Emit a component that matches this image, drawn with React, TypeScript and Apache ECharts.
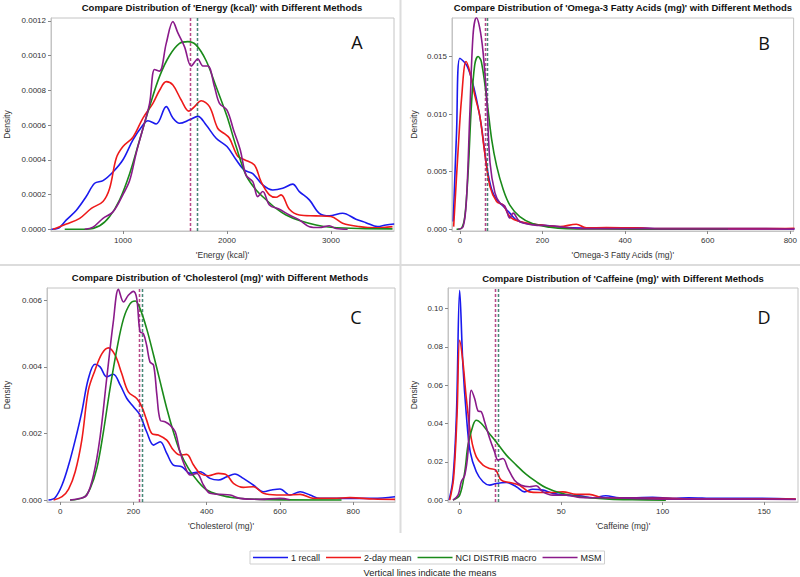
import React, { useEffect, useRef } from "react";
import * as echarts from "echarts";

// ---------- Data ----------
const methods = ["1 recall", "2-day mean", "NCI DISTRIB macro", "MSM"];
const methodColors = ["#1a1aee", "#ee1a1a", "#1a8a1a", "#8a1a8a"];

const panelTitles = [
  "Compare Distribution of 'Energy (kcal)' with Different Methods",
  "Compare Distribution of 'Omega-3 Fatty Acids (mg)' with Different Methods",
  "Compare Distribution of 'Cholesterol (mg)' with Different Methods",
  "Compare Distribution of 'Caffeine (mg)' with Different Methods",
];
const panelXNames = ["'Energy (kcal)'", "'Omega-3 Fatty Acids (mg)'", "'Cholesterol (mg)'", "'Caffeine (mg)'"];
const panelLetters = ["A", "B", "C", "D"];

const xTicksA = [1000, 2000, 3000];
const yTicksA = [0, 0.0002, 0.0004, 0.0006, 0.0008, 0.001, 0.0012];
const xTicksB = [0, 200, 400, 600, 800];
const yTicksB = [0, 0.005, 0.01, 0.015];
const xTicksC = [0, 200, 400, 600, 800];
const yTicksC = [0, 0.002, 0.004, 0.006];
const xTicksD = [0, 50, 100, 150];
const yTicksD = [0, 0.02, 0.04, 0.06, 0.08, 0.1];

const yDecimals = [4, 3, 3, 2];

// means: [blue/green mean, red/purple mean]
const meansA = [1714, 1646];
const meansB = [67, 62];
const meansC = [225, 216];
const meansD = [19, 17.7];

// Panel A: Energy
const energyRecall = [
  [312, 0], [376, 0.000005], [456, 0.000054], [552, 0.00011], [648, 0.00019], [728, 0.000265], [808, 0.00028],
  [904, 0.00033], [1000, 0.0004], [1096, 0.000514], [1192, 0.0006], [1240, 0.000625], [1320, 0.000606],
  [1416, 0.000706], [1480, 0.00064], [1544, 0.00061], [1640, 0.00063], [1720, 0.00065], [1800, 0.0006],
  [1896, 0.000524], [2000, 0.000476], [2088, 0.0004], [2168, 0.00034], [2248, 0.00032], [2344, 0.000255],
  [2440, 0.000226], [2536, 0.000236], [2632, 0.00026], [2696, 0.000217], [2792, 0.000169], [2888, 0.000092],
  [2984, 0.000077], [3112, 0.000092], [3240, 0.000058], [3336, 0.000038], [3448, 0.000015], [3528, 0.000025],
  [3608, 0.00003],
];
const energyTwoDay = [
  [328, 0], [456, 0.00003], [584, 0.000063], [696, 0.00012], [808, 0.00016], [872, 0.000236], [936, 0.00041],
  [1000, 0.000476], [1096, 0.00053], [1192, 0.00064], [1288, 0.000725], [1352, 0.0008], [1416, 0.00085],
  [1480, 0.00083], [1560, 0.000744], [1634, 0.00068], [1688, 0.000706], [1752, 0.00074], [1832, 0.000706],
  [1912, 0.00058], [1976, 0.00055], [2024, 0.000524], [2104, 0.00042], [2168, 0.0004], [2264, 0.00037],
  [2328, 0.000274], [2408, 0.000198], [2472, 0.000184], [2520, 0.000198], [2600, 0.000115], [2696, 0.000082],
  [2856, 0.000077], [3000, 0.000073], [3112, 0.000035], [3272, 0.000015], [3432, 0.000008], [3592, 0.000015],
];
const energyNci = [
  [440, 0], [648, 0], [776, 0.00002], [872, 0.000073], [968, 0.00017], [1064, 0.00032], [1160, 0.000514],
  [1256, 0.000706], [1352, 0.00088], [1448, 0.001], [1544, 0.00107], [1624, 0.00108], [1704, 0.00106],
  [1800, 0.00097], [1896, 0.00082], [2000, 0.00065], [2088, 0.000476], [2184, 0.00031], [2280, 0.000226],
  [2376, 0.00017], [2472, 0.00012], [2568, 0.000082], [2696, 0.00005], [2856, 0.000025], [3000, 0.000012],
  [3272, 0.000004], [3592, 0.000002],
];
const energyMsm = [
  [632, 0], [712, 0.000012], [808, 0.000063], [904, 0.0001], [1000, 0.0002], [1064, 0.00028], [1128, 0.00044],
  [1192, 0.00058], [1256, 0.000725], [1304, 0.00092], [1352, 0.00091], [1416, 0.00107], [1480, 0.001195],
  [1528, 0.00113], [1592, 0.00105], [1656, 0.00094], [1720, 0.00098], [1768, 0.00094], [1816, 0.00094],
  [1880, 0.00082], [1928, 0.000725], [2000, 0.000686], [2064, 0.00057], [2128, 0.000456], [2184, 0.00031],
  [2248, 0.000274], [2296, 0.000188], [2344, 0.000217], [2408, 0.00014], [2504, 0.000115], [2600, 0.000082],
  [2696, 0.000054], [2792, 0.000015], [2888, 0.00001], [2984, 0.00002], [3048, 0.000004], [3160, 0],
];

// Panel B: Omega-3
const omegaRecall = [
  [-16, 0.00067], [-8, 0.0084], [0, 0.01485], [16, 0.01427], [28, 0.0131], [40, 0.01134], [52, 0.009],
  [65, 0.0055], [77, 0.00345], [89, 0.00257], [105, 0.002], [121, 0.0014], [137, 0.0008], [161, 0.0005],
  [194, 0.00038], [258, 0.00015], [339, 0.00009], [419, 0.00012], [500, 0.00006], [581, 0.00006],
  [661, 0.00006], [742, 0.00006], [810, 0.00003],
];
const omegaTwoDay = [
  [-15, 0.00023], [-4, 0.007], [4, 0.0113], [15, 0.01456], [24, 0.01368], [36, 0.01164], [48, 0.0099],
  [60, 0.0067], [73, 0.0037], [89, 0.0024], [105, 0.0021], [121, 0.0011], [145, 0.00067], [194, 0.00038],
  [242, 0.00023], [282, 0.00044], [306, 0.00012], [355, 0.00015], [419, 0.00012], [500, 0.00006],
  [581, 0.00006], [661, 0.00006], [742, 0.00006], [810, 0.00009],
];
const omegaNci = [
  [-8, 0], [4, 0.0001], [12, 0.0011], [20, 0.0049], [28, 0.01076], [36, 0.01427], [44, 0.015], [52, 0.01456],
  [65, 0.01134], [77, 0.0078], [89, 0.0055], [105, 0.00345], [121, 0.0021], [145, 0.0011], [177, 0.00047],
  [218, 0.00018], [258, 0.00006], [339, 0.00003], [500, 0], [649, 0],
];
const omegaMsm = [
  [-4, 0], [8, 0.00023], [16, 0.0026], [24, 0.0099], [32, 0.0169], [40, 0.01836], [48, 0.0175], [56, 0.01544],
  [65, 0.01134], [73, 0.0058], [85, 0.00316], [97, 0.00228], [109, 0.002], [121, 0.00097], [129, 0.0014],
  [145, 0.00067], [177, 0.00038], [218, 0.0003], [298, 0.00006], [419, 0.00006], [500, 0.00003],
  [581, 0.00003], [661, 0.00003], [810, 0.00003],
];

// Panel C: Cholesterol
const cholRecall = [
  [-32, 0], [-14, 0.00007], [5, 0.00045], [23, 0.00105], [41, 0.0018], [59, 0.00265], [77, 0.00365],
  [95, 0.00408], [109, 0.004], [127, 0.0037], [145, 0.00378], [164, 0.00345], [182, 0.00305], [200, 0.0028],
  [218, 0.00255], [236, 0.00205], [255, 0.00165], [273, 0.00175], [291, 0.0014], [309, 0.00105], [332, 0.001],
  [355, 0.0008], [382, 0.00085], [409, 0.00065], [432, 0.0006], [455, 0.0007], [477, 0.00078], [500, 0.00065],
  [527, 0.00045], [555, 0.00025], [577, 0.0003], [600, 0.00033], [627, 0.00015], [655, 0.00025],
  [682, 0.00015], [709, 0.00005], [791, 0.00005], [855, 0.00005], [914, 0.0001],
];
const cholTwoDay = [
  [-18, 0], [5, 0.0001], [23, 0.00033], [41, 0.00085], [59, 0.0018], [77, 0.0033], [95, 0.0039], [114, 0.0044],
  [132, 0.00457], [150, 0.00435], [168, 0.0038], [186, 0.00325], [209, 0.00305], [223, 0.0028], [236, 0.0024],
  [250, 0.002], [268, 0.00195], [291, 0.0018], [309, 0.0015], [327, 0.00135], [345, 0.00137], [364, 0.00105],
  [382, 0.0008], [405, 0.00073], [432, 0.0008], [455, 0.00075], [473, 0.0005], [500, 0.00038], [527, 0.0004],
  [555, 0.0002], [591, 0.00015], [618, 0.00015], [655, 0.00017], [691, 0.00005], [745, 0.00005],
  [791, 0.00007], [855, 0.00003], [914, 0.00002],
];
const cholNci = [
  [27, 0], [64, 0.00008], [82, 0.00035], [100, 0.00095], [118, 0.00205], [136, 0.00335], [155, 0.00455],
  [173, 0.00545], [191, 0.0059], [205, 0.00598], [218, 0.00575], [236, 0.00515], [255, 0.00435], [273, 0.00355],
  [291, 0.00275], [309, 0.00205], [327, 0.00145], [350, 0.00095], [373, 0.0006], [400, 0.0003], [436, 0.00015],
  [473, 0.00007], [545, 0.00002], [768, 0],
];
const cholMsm = [
  [27, 0], [55, 0.00005], [73, 0.00015], [91, 0.00075], [109, 0.0019], [127, 0.00365], [145, 0.00535],
  [159, 0.00633], [173, 0.00595], [186, 0.00615], [200, 0.00627], [209, 0.00605], [218, 0.00505], [227, 0.005],
  [236, 0.00465], [245, 0.00415], [255, 0.00405], [264, 0.00315], [273, 0.0024], [286, 0.00235], [300, 0.00225],
  [314, 0.00205], [327, 0.00145], [341, 0.001], [355, 0.00075], [373, 0.0008], [391, 0.00045], [409, 0.0002],
  [436, 0.00017], [464, 0.00015], [491, 0.00005], [545, 0.00002], [600, 0.00005], [627, 0.00001],
];

// Panel D: Caffeine
const cafRecall = [
  [-5.2, 0], [-3.3, 0.0113], [-1.6, 0.0443], [0, 0.1096], [1.6, 0.0704], [3.3, 0.0443], [5.2, 0.0252],
  [8.2, 0.0148], [11.5, 0.0096], [14.8, 0.0078], [18, 0.0087], [23, 0.0092], [27.9, 0.007], [32, 0.0043],
  [36, 0.0057], [41, 0.0052], [46, 0.0035], [52.5, 0.0026], [59, 0.0023], [65.6, 0.0012], [72, 0.0023],
  [78.7, 0.0012], [85, 0.0012], [95, 0.0014], [105, 0.0009], [113, 0.0012], [126, 0.0009], [147.5, 0.0009],
  [165.6, 0.0005],
];
const cafTwoDay = [
  [-4.9, 0], [-3, 0.0113], [-1.3, 0.0443], [0, 0.0835], [1.6, 0.0722], [3.3, 0.053], [5.7, 0.0322],
  [8.2, 0.0226], [11.5, 0.0183], [14.8, 0.0165], [17.7, 0.0157], [20.5, 0.0104], [24.6, 0.0092], [29.5, 0.0078],
  [34.4, 0.0043], [39.3, 0.004], [45.9, 0.004], [50.8, 0.0043], [57.4, 0.003], [63.9, 0.003], [70.5, 0.0012],
  [85, 0.0009], [101.6, 0.0009], [118, 0.0005], [134, 0.0005], [165.6, 0.0005],
];
const cafNci = [
  [-3.3, 0], [0, 0.0026], [2.5, 0.0148], [4.1, 0.0287], [6.6, 0.0391], [8.2, 0.0417], [10.7, 0.04],
  [13.9, 0.0357], [18, 0.0304], [23, 0.0235], [27.9, 0.0183], [32.8, 0.0134], [37.7, 0.0096], [42.6, 0.0064],
  [49.2, 0.0038], [55.7, 0.0023], [63.9, 0.0012], [73.8, 0.0005], [85, 0.0002], [101.6, 0],
];
const cafMsm = [
  [-3.3, 0], [-0.8, 0.0026], [0.8, 0.0096], [2.5, 0.013], [4.1, 0.0252], [5.7, 0.0574], [7.4, 0.053],
  [9, 0.0466], [10.7, 0.0461], [12.3, 0.0409], [14.8, 0.0322], [17.2, 0.0252], [18.9, 0.0209], [21.3, 0.0217],
  [23.8, 0.0165], [27, 0.0104], [30.3, 0.0078], [34.4, 0.007], [37.7, 0.0075], [41, 0.0043], [45.9, 0.0026],
  [52.5, 0.0026], [59, 0.0014], [68.9, 0.0012], [85, 0.0009], [101.6, 0.0005], [134, 0.0005], [165.6, 0.0003],
];

const panelSeries = [
  [energyRecall, energyTwoDay, energyNci, energyMsm],
  [omegaRecall, omegaTwoDay, omegaNci, omegaMsm],
  [cholRecall, cholTwoDay, cholNci, cholMsm],
  [cafRecall, cafTwoDay, cafNci, cafMsm],
];
const panelMeans = [meansA, meansB, meansC, meansD];
const panelXTicks = [xTicksA, xTicksB, xTicksC, xTicksD];
const panelYTicks = [yTicksA, yTicksB, yTicksC, yTicksD];
const panelXRange = [[308, 3606], [-19, 808], [-36, 914], [-5.75, 166.7]];
const panelYRange = [[-0.00001, 0.001216], [-0.00015, 0.01834], [-0.00006, 0.00637], [-0.001, 0.1108]];

// ---------- Layout ----------
const grids = [
  { left: 51, top: 18, width: 343, height: 213 },
  { left: 452, top: 18, width: 343, height: 213 },
  { left: 47, top: 288, width: 348, height: 214 },
  { left: 448, top: 288, width: 350, height: 214 },
];
const yNameGaps = [40, 34, 36, 30];

const FONT = "'Liberation Sans', Arial, sans-serif";

export default function App() {
  const ref = useRef<HTMLDivElement>(null);
  useEffect(() => {
    if (!ref.current) return;
    const chart = echarts.init(ref.current, undefined, { renderer: "svg" });

    const xAxis: any[] = [];
    const yAxis: any[] = [];
    const series: any[] = [];

    grids.forEach((g, i) => {
      xAxis.push({
        type: "value",
        gridIndex: i,
        min: panelXRange[i][0],
        max: panelXRange[i][1],
        name: panelXNames[i],
        nameLocation: "middle",
        nameGap: 19,
        nameTextStyle: { fontSize: 8.5, color: "#333", fontFamily: FONT },
        axisLine: { show: true, onZero: false, lineStyle: { color: "#c4c4c4" } },
        axisTick: { show: true, length: 3, customValues: panelXTicks[i], lineStyle: { color: "#888" } },
        axisLabel: {
          customValues: panelXTicks[i],
          fontSize: 8,
          color: "#333",
          fontFamily: FONT,
          margin: 5,
          formatter: (v: number) => String(Math.round(v)),
        },
        splitLine: { show: false },
      });
      yAxis.push({
        type: "value",
        gridIndex: i,
        min: panelYRange[i][0],
        max: panelYRange[i][1],
        name: "Density",
        nameLocation: "middle",
        nameGap: yNameGaps[i],
        nameTextStyle: { fontSize: 8.5, color: "#333", fontFamily: FONT },
        axisLine: { show: true, onZero: false, lineStyle: { color: "#c4c4c4" } },
        axisTick: { show: true, length: 3, customValues: panelYTicks[i], lineStyle: { color: "#888" } },
        axisLabel: {
          customValues: panelYTicks[i],
          fontSize: 8,
          color: "#333",
          fontFamily: FONT,
          margin: 5,
          formatter: (v: number) => v.toFixed(yDecimals[i]),
        },
        splitLine: { show: false },
      });
      panelSeries[i].forEach((data, m) => {
        const meanVal = m === 0 || m === 2 ? panelMeans[i][0] : panelMeans[i][1];
        series.push({
          type: "line",
          name: methods[m],
          xAxisIndex: i,
          yAxisIndex: i,
          data,
          smooth: 0.35,
          showSymbol: false,
          symbol: "none",
          lineStyle: { color: methodColors[m], width: 1.6 },
          itemStyle: { color: methodColors[m] },
          z: 3 + m,
          markLine: {
            silent: true,
            symbol: "none",
            label: { show: false },
            lineStyle: {
              color: methodColors[m],
              width: 1.4,
              type: [3, 2],
              opacity: m < 2 ? 0.5 : 0.6,
            },
            data: [{ xAxis: meanVal }],
          },
        });
      });
    });

    const titleCenters = [
      [222, 7],
      [623, 7],
      [220, 277],
      [623, 278],
    ];
    const letterPos = [
      [357, 42],
      [764, 43],
      [356, 317],
      [764, 317],
    ];
    const texts: any[] = [];
    titleCenters.forEach((c, i) => {
      texts.push({
        type: "text",
        x: c[0],
        y: c[1],
        style: {
          text: panelTitles[i],
          fill: "#111",
          font: `bold 9.5px ${FONT}`,
          align: "center",
          verticalAlign: "middle",
        },
      });
      texts.push({
        type: "text",
        x: letterPos[i][0],
        y: letterPos[i][1],
        style: {
          text: panelLetters[i],
          fill: "#111",
          font: `18px 'Open Sans', 'Noto Sans', sans-serif`,
          align: "center",
          verticalAlign: "middle",
        },
      });
    });
    // dividers
    texts.push({
      type: "line",
      shape: { x1: 400.5, y1: 0, x2: 400.5, y2: 533 },
      style: { stroke: "#dcdcdc", lineWidth: 2 },
    });
    texts.push({
      type: "line",
      shape: { x1: 0, y1: 265, x2: 800, y2: 265 },
      style: { stroke: "#dcdcdc", lineWidth: 2 },
    });
    texts.push({
      type: "text",
      x: 430,
      y: 573,
      style: {
        text: "Vertical lines indicate the means",
        fill: "#222",
        font: `9.3px ${FONT}`,
        align: "center",
        verticalAlign: "middle",
      },
    });

    chart.setOption({
      animation: false,
      grid: grids.map((g) => ({ ...g, show: true, borderColor: "#c4c4c4", borderWidth: 1, containLabel: false })),
      xAxis,
      yAxis,
      series,
      legend: {
        data: methods,
        left: 250,
        top: 551,
        icon: "rect",
        itemWidth: 35,
        itemHeight: 1.6,
        itemGap: 6,
        padding: [2, 3, 2, 3],
        borderColor: "#cfcfcf",
        borderWidth: 1,
        textStyle: { fontSize: 9, color: "#222", fontFamily: FONT, padding: [0, 0, 0, -2] },
        selectedMode: false,
      },
      graphic: texts,
    });
    return () => chart.dispose();
  }, []);
  return (
    <div
      ref={ref}
      style={{ position: "fixed", left: 0, top: 0, width: 800, height: 577, background: "#fff" }}
    />
  );
}
